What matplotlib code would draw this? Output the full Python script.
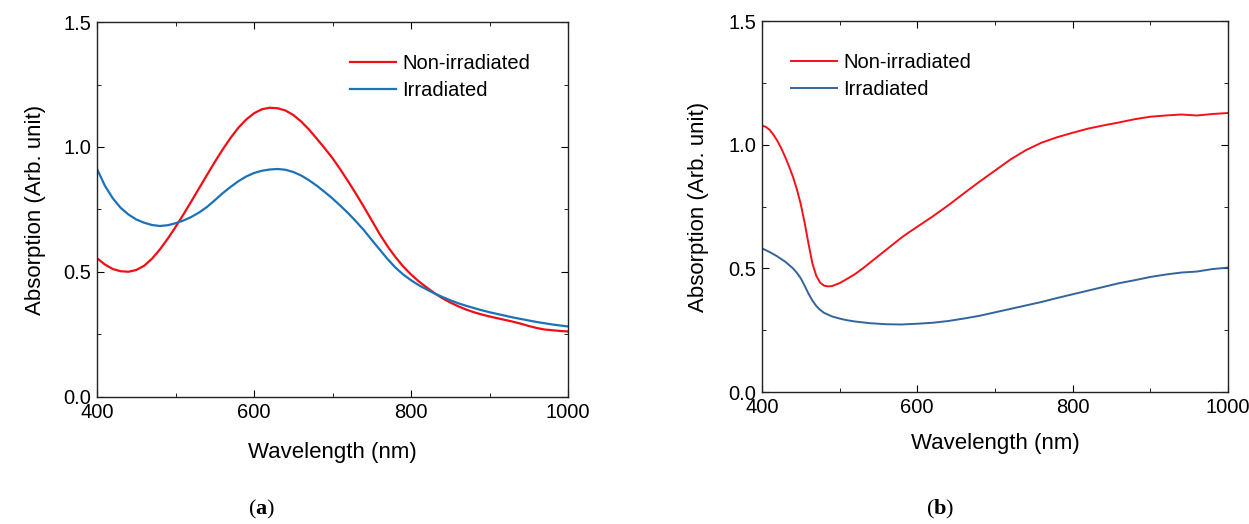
import numpy as np
import matplotlib
matplotlib.use("Agg")
import matplotlib.pyplot as plt

plt.rcParams["font.family"] = ["Liberation Sans", "DejaVu Sans"]
plt.rcParams["mathtext.fontset"] = "custom"
plt.rcParams["mathtext.rm"] = "Liberation Serif"
plt.rcParams["mathtext.bf"] = "Liberation Serif:bold"

# panel (a), readings every 10 nm
wl_a = list(range(400, 1001, 10))
non_irr_a = [0.555, 0.53, 0.512, 0.503, 0.501, 0.508, 0.525, 0.553, 0.59, 0.633,
             0.68, 0.73, 0.782, 0.835, 0.888, 0.94, 0.99, 1.036, 1.077, 1.11,
             1.135, 1.151, 1.157, 1.155, 1.146, 1.128, 1.102, 1.07, 1.033, 0.995,
             0.955, 0.91, 0.862, 0.812, 0.76, 0.706, 0.652, 0.603, 0.56, 0.522,
             0.49, 0.462, 0.438, 0.415, 0.395, 0.378, 0.363, 0.35, 0.339, 0.33,
             0.322, 0.315, 0.308, 0.301, 0.293, 0.284, 0.276, 0.27, 0.267, 0.264, 0.262]
irr_a = [0.912, 0.845, 0.795, 0.757, 0.73, 0.71, 0.697, 0.688, 0.684, 0.687,
         0.695, 0.706, 0.72, 0.738, 0.76, 0.787, 0.815, 0.84, 0.863, 0.882,
         0.896, 0.905, 0.91, 0.912, 0.909, 0.9, 0.886, 0.867, 0.845, 0.82,
         0.794, 0.765, 0.735, 0.702, 0.667, 0.628, 0.59, 0.552, 0.518, 0.49,
         0.467, 0.447, 0.43, 0.414, 0.4, 0.387, 0.375, 0.365, 0.356, 0.347,
         0.339, 0.332, 0.325, 0.318, 0.312, 0.306, 0.3, 0.295, 0.29, 0.286, 0.282]

# panel (b)
wl_b_red = [400, 405, 410, 415, 420, 425, 430, 435, 440, 445, 450, 455, 460, 465, 470, 475,
            480, 485, 490, 500, 510, 520, 530, 540, 550, 560, 570, 580, 590, 600, 620, 640,
            660, 680, 700, 720, 740, 760, 780, 800, 820, 840, 860, 880, 900, 920, 940, 960,
            980, 1000]
non_irr_b = [1.077, 1.072, 1.06, 1.04, 1.015, 0.985, 0.95, 0.912, 0.87, 0.82, 0.76, 0.685,
             0.6, 0.52, 0.47, 0.442, 0.43, 0.427, 0.428, 0.44, 0.458, 0.477, 0.5, 0.525,
             0.55, 0.575, 0.6, 0.625, 0.647, 0.668, 0.71, 0.755, 0.803, 0.85, 0.895, 0.94,
             0.978, 1.008, 1.03, 1.048, 1.065, 1.078, 1.09, 1.103, 1.113, 1.118, 1.122,
             1.118, 1.124, 1.128]
wl_b_blue = [400, 410, 420, 430, 440, 445, 450, 455, 460, 465, 470, 475, 480, 490, 500, 510,
             520, 540, 560, 580, 600, 620, 640, 660, 680, 700, 720, 740, 760, 780, 800, 820,
             840, 860, 880, 900, 920, 940, 960, 980, 1000]
irr_b = [0.581, 0.566, 0.548, 0.527, 0.5, 0.482, 0.46, 0.43, 0.398, 0.37, 0.348, 0.332,
         0.32, 0.306, 0.297, 0.29, 0.285, 0.278, 0.274, 0.273, 0.276, 0.28, 0.287, 0.297,
         0.308, 0.322, 0.336, 0.35, 0.364, 0.38, 0.395, 0.41, 0.425, 0.44, 0.452, 0.465,
         0.475, 0.483, 0.487, 0.497, 0.503]

labels = ["Non-irradiated", "Irradiated"]

fig = plt.figure(figsize=(12.49, 5.24), dpi=100)
ax_a = fig.add_axes([0.0777, 0.2424, 0.3771, 0.7156])
ax_b = fig.add_axes([0.610, 0.2519, 0.3731, 0.708])


def style_axis(ax, xpad, ypad):
    ax.set_xlim(400, 1000)
    ax.set_ylim(0, 1.5)
    ax.set_xticks([400, 600, 800, 1000])
    ax.set_xticks([500, 700, 900], minor=True)
    ax.set_yticks([0.0, 0.5, 1.0, 1.5])
    ax.set_yticks([0.25, 0.75, 1.25], minor=True)
    ax.yaxis.set_major_formatter(matplotlib.ticker.FormatStrFormatter("%.1f"))
    ax.tick_params(which="both", direction="in", top=True, right=True, labelsize=14.5, pad=4)
    ax.tick_params(which="major", length=5)
    ax.tick_params(which="minor", length=3)
    for s in ax.spines.values():
        s.set_linewidth(1.0)
        s.set_color("#222222")
    ax.set_xlabel("Wavelength (nm)", fontsize=16, labelpad=xpad)
    ax.set_ylabel("Absorption (Arb. unit)", fontsize=16, labelpad=ypad)


ax_a.plot(wl_a, non_irr_a, color="#f20d14", lw=1.6, label=labels[0])
ax_a.plot(wl_a, irr_a, color="#1a72b8", lw=1.6, label=labels[1])
style_axis(ax_a, 15, 13)
ax_a.legend(loc="upper left", bbox_to_anchor=(0.52, 0.935), frameon=False, fontsize=14.5,
            handlelength=2.3, handletextpad=0.3, labelspacing=0.38, borderaxespad=0)

ax_b.plot(wl_b_red, non_irr_b, color="#f5101a", lw=1.4, label=labels[0])
ax_b.plot(wl_b_blue, irr_b, color="#33649b", lw=1.4, label=labels[1])
style_axis(ax_b, 12, 14)
ax_b.legend(loc="upper left", bbox_to_anchor=(0.045, 0.935), frameon=False, fontsize=14.5,
            handlelength=2.3, handletextpad=0.3, labelspacing=0.38, borderaxespad=0)

fig.text(0.2097, 0.027, r"($\mathbf{a}$)", ha="center", va="center", fontsize=16,
         family="Liberation Serif")
fig.text(0.7526, 0.027, r"($\mathbf{b}$)", ha="center", va="center", fontsize=16,
         family="Liberation Serif")

fig.savefig("out.png", dpi=100)
